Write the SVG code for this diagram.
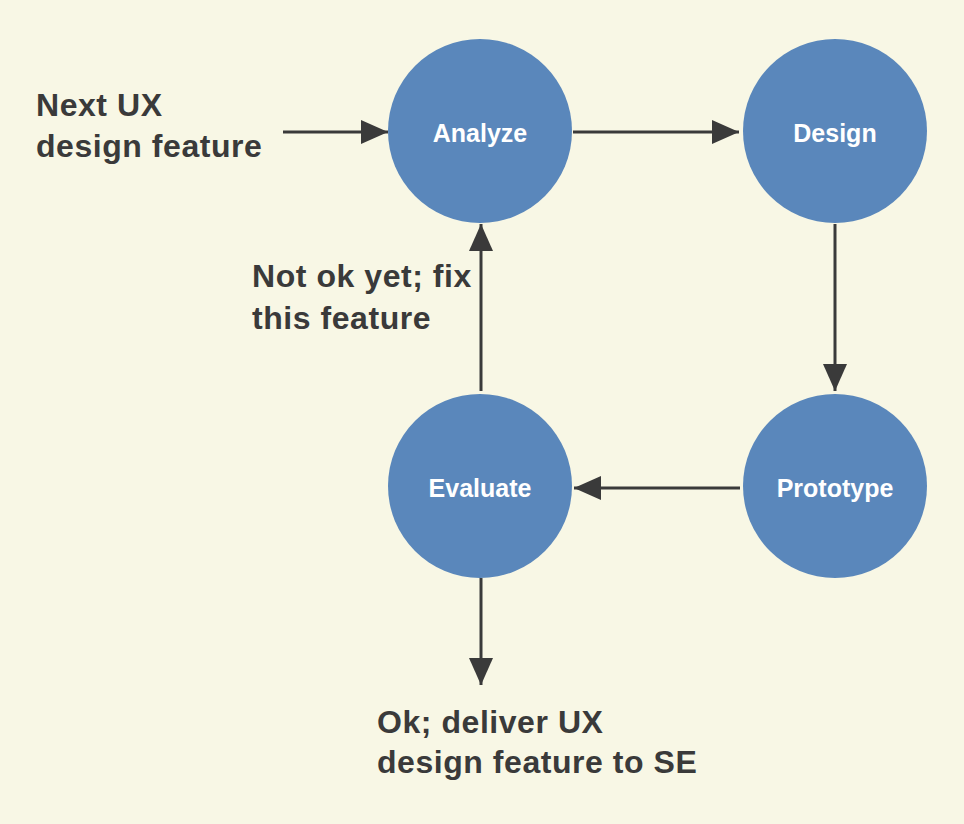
<svg xmlns="http://www.w3.org/2000/svg" width="964" height="824" viewBox="0 0 964 824">
<style>
.node{fill:#5a87bb}
.nl{font-family:"Liberation Sans",Arial,sans-serif;font-weight:bold;font-size:25px;fill:#ffffff;text-anchor:middle}
.lbl{font-family:"Liberation Sans",Arial,sans-serif;font-weight:bold;font-size:32px;letter-spacing:0.55px;fill:#3a3a3a}
.edge{stroke:#3a3a3a;stroke-width:3;fill:none;marker-end:url(#ah)}
</style>
<defs>
<marker id="ah" markerWidth="9" markerHeight="8" refX="9" refY="4" orient="auto" markerUnits="strokeWidth">
<path d="M0,0 L9,4 L0,8 Z" fill="#3a3a3a"/>
</marker>
</defs>
<rect width="964" height="824" fill="#f8f7e5"/>
<g id="edges">
<line class="edge" x1="283" y1="132" x2="388" y2="132"/>
<line class="edge" x1="573" y1="132" x2="739" y2="132"/>
<line class="edge" x1="835" y1="224" x2="835" y2="391"/>
<line class="edge" x1="740" y1="488" x2="574" y2="488"/>
<line class="edge" x1="481" y1="391" x2="481" y2="224"/>
<line class="edge" x1="481" y1="578" x2="481" y2="685"/>
</g>
<g id="analyze"><circle class="node" cx="480" cy="131" r="92"/><text class="nl" x="480" y="142">Analyze</text></g>
<g id="design"><circle class="node" cx="835" cy="131" r="92"/><text class="nl" x="835" y="142">Design</text></g>
<g id="prototype"><circle class="node" cx="835" cy="486" r="92"/><text class="nl" x="835" y="497">Prototype</text></g>
<g id="evaluate"><circle class="node" cx="480" cy="486" r="92"/><text class="nl" x="480" y="497">Evaluate</text></g>
<g id="labels">
<text class="lbl" x="36" y="116">Next UX</text>
<text class="lbl" x="36" y="157">design feature</text>
<text class="lbl" x="252" y="287">Not ok yet; fix</text>
<text class="lbl" x="252" y="329">this feature</text>
<text class="lbl" x="377" y="733">Ok; deliver UX</text>
<text class="lbl" x="377" y="773">design feature to SE</text>
</g>
</svg>
